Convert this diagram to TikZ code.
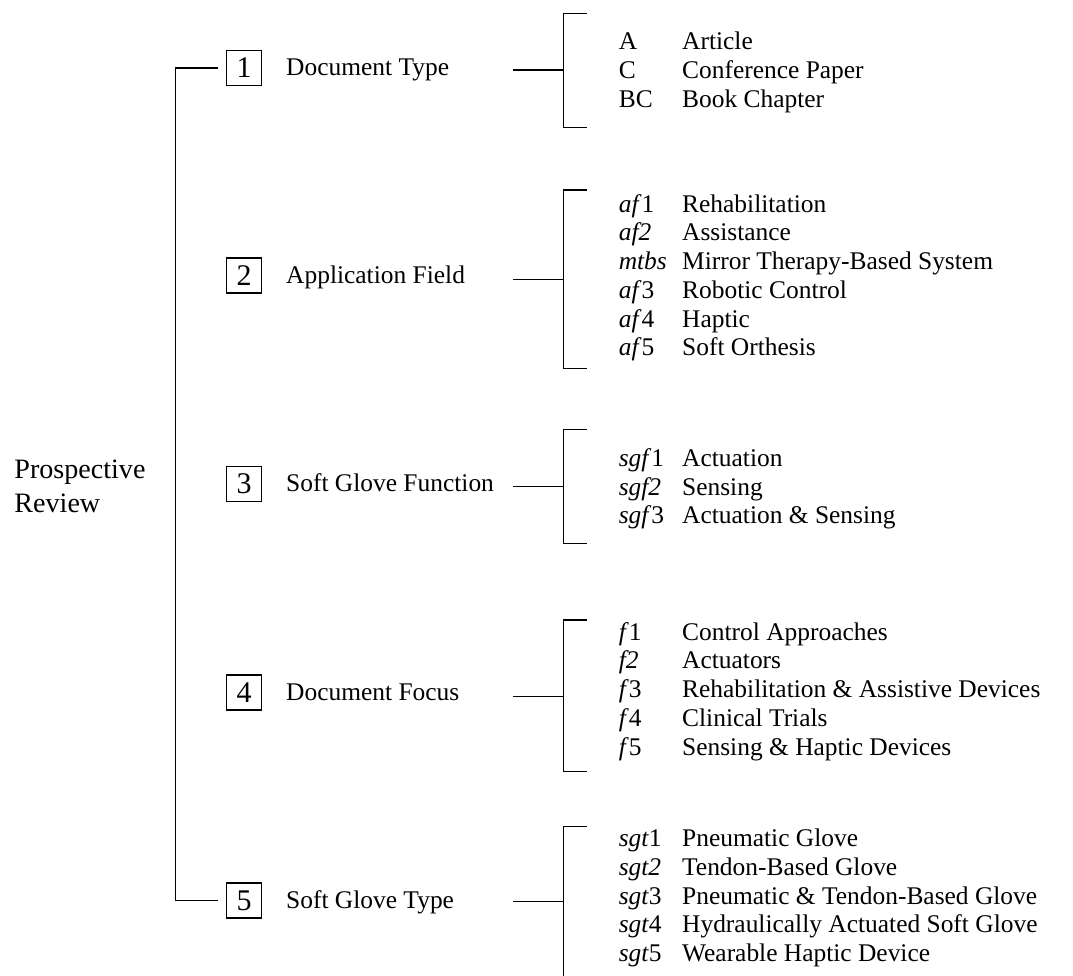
\documentclass[tikz,border=0pt]{standalone}
\usepackage{fontspec}
\setmainfont{Liberation Serif}
\usetikzlibrary{positioning}

\begin{document}
\begin{tikzpicture}[x=0.4167pt,y=-0.4167pt,
  numbox/.style={draw,line width=0.6pt,minimum size=14.6pt,inner sep=0pt,outer sep=3.5pt,font=\fontsize{12.5}{14}\selectfont},
  lab/.style={inner sep=0pt,text height=7pt,text depth=0.5pt,font=\fontsize{10.6}{12}\selectfont},
  topic/.style={inner sep=0pt,anchor=west,align=left,font=\fontsize{11.7}{14.2}\selectfont},
  itm/.style={anchor=base west,inner sep=0pt,font=\fontsize{10.6}{12}\selectfont},
  ln/.style={line width=0.6pt}]
  \useasboundingbox (0,0) rectangle (1073,976);
  % root and the five classes
  \node[topic] (pr) at (14,486) {Prospective\\Review};
  \node[numbox] (b1) at (244.2,68) {1};
  \node[numbox] (b2) at (244.2,275.5) {2};
  \node[numbox] (b3) at (244.2,484) {3};
  \node[numbox] (b4) at (244.2,692.5) {4};
  \node[numbox] (b5) at (244.2,900.5) {5};
  \node[lab,right=6.5pt of b1] (l1) {Document Type};
  \node[lab,right=6.5pt of b2] (l2) {Application Field};
  \node[lab,right=6.5pt of b3] (l3) {Soft Glove Function};
  \node[lab,right=6.5pt of b4] (l4) {Document Focus};
  \node[lab,right=6.5pt of b5] (l5) {Soft Glove Type};
  \draw[ln] (b1.west) -- ++(-42.6,0) |- (b5.west);
  % brackets
  \foreach \n/\t/\m/\b in {1/13.3/70/127.7,2/190/279.3/368.3,3/429.7/486.7/543.7,4/620/696.7/771.7,5/826.7/901.7/977}{
    \coordinate (s\n) at (513,\m);
    \coordinate (k\n) at (563.3,\m);
    \draw[ln] (586.7,\t) -- (563.3,\t) -- (563.3,\b) -- (586.7,\b);
    \draw[ln] (s\n) -- (k\n);
  }
  % codes and categories
  \foreach \c/\d [count=\i] in {A/Article,C/Conference Paper,BC/Book Chapter}{
    \node[itm] (dt\i) at (618.3,{50+28.7*(\i-1)}) {\c};
    \node[itm] (dtx\i) at (681.7,{50+28.7*(\i-1)}) {\d};
  }
  \foreach \c/\d [count=\i] in {{\textit{af}1}/Rehabilitation,{\textit{af2}}/Assistance,{\textit{mtbs}}/Mirror Therapy-Based System,{\textit{af}3}/Robotic Control,{\textit{af}4}/Haptic,{\textit{af}5}/Soft Orthesis}{
    \node[itm] (af\i) at (618.3,{212.3+28.7*(\i-1)}) {\c};
    \node[itm] (afx\i) at (681.7,{212.3+28.7*(\i-1)}) {\d};
  }
  \foreach \c/\d [count=\i] in {{\textit{sgf}1}/Actuation,{\textit{sgf2}}/Sensing,{\textit{sgf}3}/Actuation \& Sensing}{
    \node[itm] (sgf\i) at (618.3,{466.3+28.7*(\i-1)}) {\c};
    \node[itm] (sgfx\i) at (681.7,{466.3+28.7*(\i-1)}) {\d};
  }
  \foreach \c/\d [count=\i] in {{\textit{f}1}/Control Approaches,{\textit{f2}}/Actuators,{\textit{f}3}/Rehabilitation \& Assistive Devices,{\textit{f}4}/Clinical Trials,{\textit{f}5}/Sensing \& Haptic Devices}{
    \node[itm] (f\i) at (618.3,{640+28.75*(\i-1)}) {\c};
    \node[itm] (fx\i) at (681.7,{640+28.75*(\i-1)}) {\d};
  }
  \foreach \c/\d [count=\i] in {{\textit{sgt}1}/Pneumatic Glove,{\textit{sgt2}}/Tendon-Based Glove,{\textit{sgt}3}/Pneumatic \& Tendon-Based Glove,{\textit{sgt}4}/Hydraulically Actuated Soft Glove,{\textit{sgt}5}/Wearable Haptic Device}{
    \node[itm] (sgt\i) at (618.3,{846.7+28.75*(\i-1)}) {\c};
    \node[itm] (sgtx\i) at (681.7,{846.7+28.75*(\i-1)}) {\d};
  }
\end{tikzpicture}
\end{document}
